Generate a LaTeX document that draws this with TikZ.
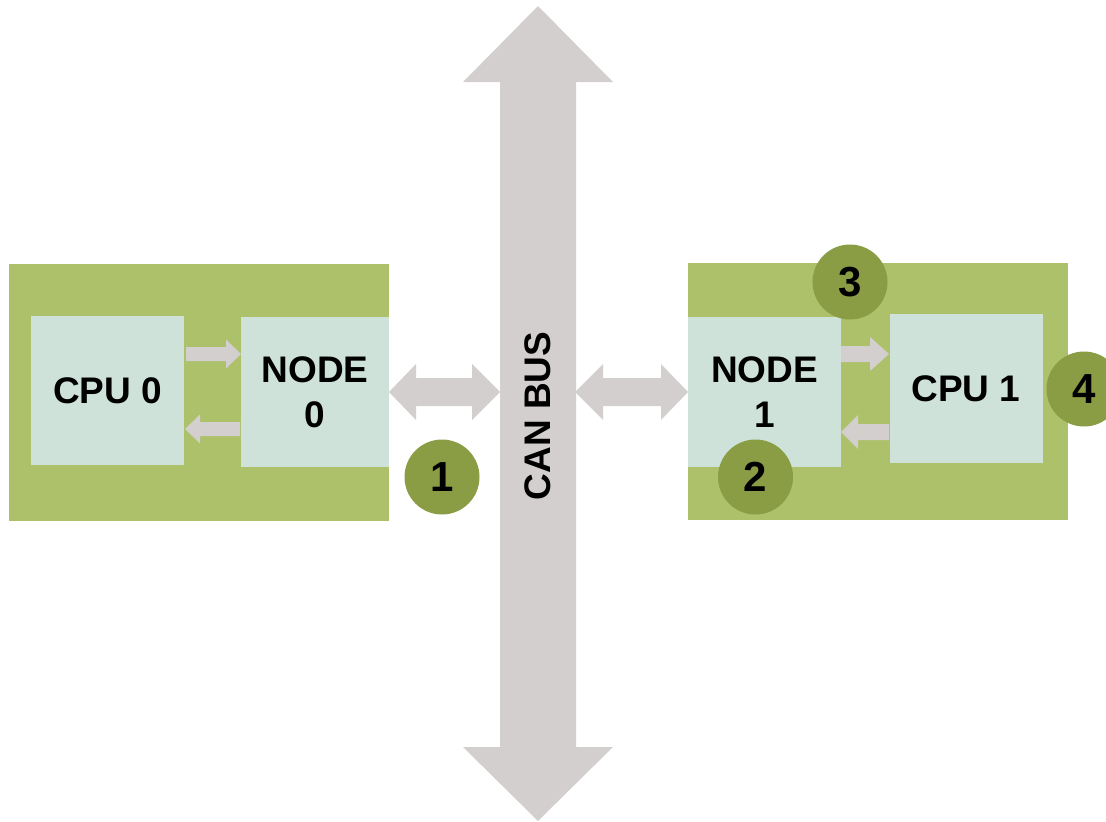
\documentclass[tikz,border=0pt]{standalone}
\usepackage{fontspec}
\setmainfont{Liberation Sans}
\definecolor{boxgreen}{RGB}{173,192,106}
\definecolor{lightbox}{RGB}{206,226,218}
\definecolor{arrowgray}{RGB}{212,207,207}
\definecolor{numgreen}{RGB}{138,156,68}
\tikzset{
  panel/.style={fill=boxgreen, draw=none},
  unitbox/.style={fill=lightbox, draw=none, inner sep=0pt, align=center,
    font=\fontsize{37}{45}\selectfont\bfseries},
  blockarrow/.style={fill=arrowgray, draw=none},
  numbadge/.style={circle, fill=numgreen, draw=none, minimum size=75pt, inner sep=0pt,
    font=\fontsize{42}{42}\selectfont\bfseries},
  buslabel/.style={rotate=90, font=\fontsize{37}{37}\selectfont\bfseries}
}
\begin{document}
\begin{tikzpicture}[x=1pt,y=-1pt]
\useasboundingbox (0,0) rectangle (1106,822);
\clip (0,0) rectangle (1106,822);
% CAN bus
\fill[blockarrow] (500,82) -- (463,82) -- (538,6) -- (613,82) -- (576,82) -- (576,747) -- (613,747) -- (538,821) -- (463,747) -- (500,747) -- cycle;
\node[buslabel] (bus) at (538,416) {CAN BUS};
% panels
\fill[panel] (9,264) rectangle (389,521);
\fill[panel] (688,263) rectangle (1068,520);
% units
\node[unitbox, minimum width=153pt, minimum height=149pt] (cpu0) at (107.5,390.5) {CPU 0};
\node[unitbox, minimum width=148pt, minimum height=150pt] (node0) at (315,392) {NODE\\0};
\node[unitbox, minimum width=153pt, minimum height=150pt] (node1) at (764.5,392) {NODE\\1};
\node[unitbox, minimum width=153pt, minimum height=149pt] (cpu1) at (966,388.5) {CPU 1};
% small arrows left
\fill[blockarrow] (186,347) -- (226,347) -- (226,339.5) -- (241,354) -- (226,368.5) -- (226,361) -- (186,361) -- cycle;
\fill[blockarrow] (240,422) -- (200,422) -- (200,414.5) -- (185,429) -- (200,443.5) -- (200,436) -- (240,436) -- cycle;
% small arrows right
\fill[blockarrow] (841,346) -- (870,346) -- (870,337) -- (889,354) -- (870,371) -- (870,362) -- (841,362) -- cycle;
\fill[blockarrow] (889,424) -- (858,424) -- (858,415) -- (841,432) -- (858,449) -- (858,440) -- (889,440) -- cycle;
% double arrows to bus
\fill[blockarrow] (389,392) -- (416,364) -- (416,378) -- (472,378) -- (472,364) -- (500,392) -- (472,420) -- (472,406) -- (416,406) -- (416,420) -- cycle;
\fill[blockarrow] (575,392) -- (603,364) -- (603,378) -- (661,378) -- (661,364) -- (688,392) -- (661,420) -- (661,406) -- (603,406) -- (603,420) -- cycle;
% badges
\node[numbadge] (n1) at (442,477) {1};
\node[numbadge] (n2) at (755.5,477) {2};
\node[numbadge] (n3) at (850,282) {3};
\node[numbadge] (n4) at (1084,389) {4};
\end{tikzpicture}
\end{document}
